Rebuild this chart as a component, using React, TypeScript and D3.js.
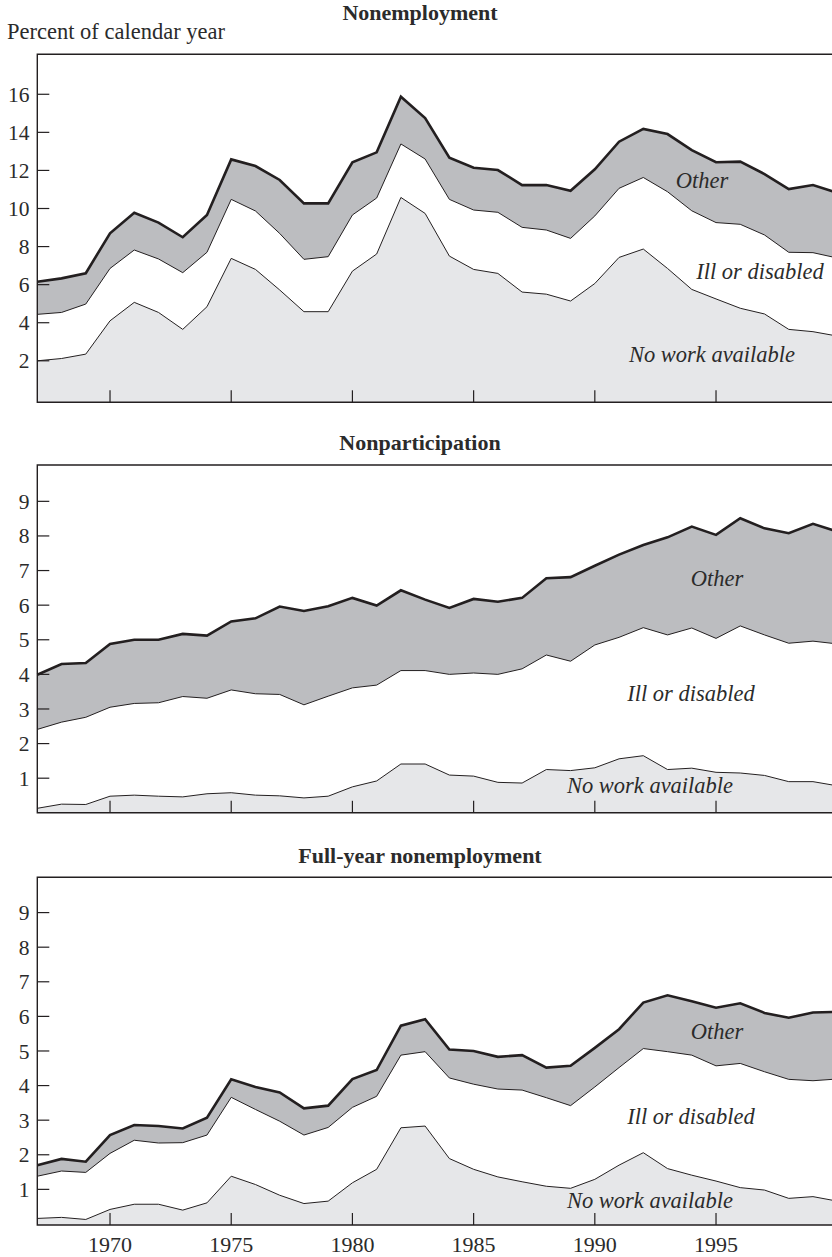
import * as d3 from 'd3'

const YEARS = [
  1967, 1968, 1969, 1970, 1971, 1972, 1973, 1974, 1975, 1976, 1977,
  1978, 1979, 1980, 1981, 1982, 1983, 1984, 1985, 1986, 1987, 1988,
  1989, 1990, 1991, 1992, 1993, 1994, 1995, 1996, 1997, 1998, 1999, 2000,
]
const YEAR_TICKS = [1970, 1975, 1980, 1985, 1990, 1995]
const BAND_LABELS = ['No work available', 'Ill or disabled', 'Other']

// cumulative boundaries: no work, + ill/disabled, + other (= total)
const NONEMP_NO_WORK = [
  2.0, 2.12, 2.35, 4.1, 5.07, 4.54, 3.65, 4.84, 7.38, 6.8, 5.72, 4.58, 4.58, 6.71, 7.61, 10.58, 9.74,
  7.5, 6.8, 6.59, 5.61, 5.5, 5.14, 6.06, 7.43, 7.87, 6.85, 5.75, 5.25, 4.76, 4.46, 3.65, 3.53, 3.3,
]
const NONEMP_NO_WORK_ILL = [
  4.44, 4.54, 4.98, 6.85, 7.82, 7.35, 6.63, 7.7, 10.48, 9.87, 8.69, 7.33, 7.47, 9.66, 10.55, 13.39, 12.6,
  10.48, 9.92, 9.8, 9.01, 8.87, 8.43, 9.61, 11.06, 11.63, 10.88, 9.88, 9.26, 9.17, 8.61, 7.7, 7.68, 7.4,
]
const NONEMP_TOTAL = [
  6.15, 6.33, 6.6, 8.7, 9.78, 9.26, 8.49, 9.66, 12.58, 12.23, 11.5, 10.27, 10.27, 12.43, 12.95, 15.87, 14.75,
  12.67, 12.14, 12.02, 11.23, 11.23, 10.93, 12.06, 13.51, 14.18, 13.91, 13.07, 12.43, 12.46, 11.81, 11.02, 11.23, 10.83,
]

const NONPART_NO_WORK = [
  0.13, 0.25, 0.24, 0.48, 0.51, 0.48, 0.46, 0.55, 0.58, 0.51, 0.49, 0.43, 0.48, 0.75, 0.92, 1.41, 1.41,
  1.09, 1.06, 0.88, 0.86, 1.25, 1.22, 1.3, 1.56, 1.65, 1.25, 1.29, 1.17, 1.15, 1.08, 0.9, 0.9, 0.78,
]
const NONPART_NO_WORK_ILL = [
  2.41, 2.62, 2.76, 3.05, 3.16, 3.18, 3.36, 3.31, 3.55, 3.44, 3.42, 3.12, 3.37, 3.61, 3.69, 4.11, 4.11,
  4.0, 4.04, 4.0, 4.16, 4.56, 4.38, 4.85, 5.07, 5.35, 5.14, 5.34, 5.04, 5.4, 5.14, 4.9, 4.96, 4.88,
]
const NONPART_TOTAL = [
  3.99, 4.3, 4.33, 4.88, 5.0, 5.0, 5.17, 5.12, 5.53, 5.62, 5.96, 5.83, 5.97, 6.21, 5.99, 6.43, 6.16,
  5.92, 6.18, 6.1, 6.21, 6.78, 6.81, 7.14, 7.46, 7.74, 7.96, 8.27, 8.03, 8.51, 8.22, 8.08, 8.35, 8.13,
]

const FULLYEAR_NO_WORK = [
  0.16, 0.19, 0.13, 0.42, 0.57, 0.57, 0.4, 0.61, 1.38, 1.14, 0.83, 0.59, 0.66, 1.19, 1.58, 2.78, 2.83,
  1.89, 1.58, 1.36, 1.22, 1.09, 1.03, 1.29, 1.7, 2.06, 1.6, 1.41, 1.24, 1.05, 0.98, 0.74, 0.79, 0.66,
]
const FULLYEAR_NO_WORK_ILL = [
  1.38, 1.53, 1.49, 2.04, 2.42, 2.34, 2.35, 2.57, 3.66, 3.31, 2.97, 2.57, 2.79, 3.37, 3.69, 4.88, 4.98,
  4.22, 4.04, 3.9, 3.87, 3.65, 3.42, 3.96, 4.52, 5.07, 4.98, 4.88, 4.57, 4.64, 4.4, 4.18, 4.14, 4.19,
]
const FULLYEAR_TOTAL = [
  1.7, 1.88, 1.8, 2.57, 2.86, 2.83, 2.76, 3.07, 4.18, 3.96, 3.8, 3.34, 3.42, 4.19, 4.45, 5.73, 5.92,
  5.04, 5.0, 4.83, 4.88, 4.52, 4.57, 5.09, 5.63, 6.4, 6.61, 6.44, 6.25, 6.38, 6.1, 5.96, 6.11, 6.13,
]

const TICKS_P1 = [2, 4, 6, 8, 10, 12, 14, 16]
const TICKS_P23 = [1, 2, 3, 4, 5, 6, 7, 8, 9]

const W = 832
const H = 1257
const LEFT = 37.3
const FONT = '"Liberation Serif", "Times New Roman", Times, serif'
const INK = '#231f20'
const TEXT = '#2b2b2b'

const x = d3.scaleLinear().domain([1967, 2000]).range([LEFT, LEFT + 33 * 24.24])

const panels = [
  {
    title: 'Nonemployment', titleY: 20,
    top: 54.3, bottom: 402.3, domain: [-0.18, 18.1],
    ticks: TICKS_P1,
    series: [NONEMP_NO_WORK, NONEMP_NO_WORK_ILL, NONEMP_TOTAL],
    labelPos: [[712, 362], [760, 279], [702, 188]],
  },
  {
    title: 'Nonparticipation', titleY: 449.5,
    top: 465, bottom: 812.8, domain: [0, 10.05],
    ticks: TICKS_P23,
    series: [NONPART_NO_WORK, NONPART_NO_WORK_ILL, NONPART_TOTAL],
    labelPos: [[650, 793], [691, 700.5], [717, 585.5]],
  },
  {
    title: 'Full-year nonemployment', titleY: 862.5,
    top: 877.3, bottom: 1225, domain: [-0.03, 10.02],
    ticks: TICKS_P23,
    series: [FULLYEAR_NO_WORK, FULLYEAR_NO_WORK_ILL, FULLYEAR_TOTAL],
    labelPos: [[650, 1207.5], [691, 1124], [717, 1038.5]],
  },
]

function Panel({ p, showYears }) {
  const y = d3.scaleLinear().domain(p.domain).range([p.bottom, p.top])
  const [noWork, noWorkIll, total] = p.series
  const idx = YEARS.map((_, i) => i)

  const band = (lo, hi) =>
    d3.area<number>()
      .x(i => x(YEARS[i]))
      .y0(i => (lo ? y(lo[i]) : p.bottom))
      .y1(i => y(hi[i]))(idx)

  const line = (s, ) => d3.line<number>().x(i => x(YEARS[i])).y(i => y(s[i]))(idx)

  return (
    <g>
      <text x={420} y={p.titleY} textAnchor="middle" fontFamily={FONT} fontWeight="bold"
        fontSize={22} fill={TEXT}>{p.title}</text>

      {/* stacked bands */}
      <path d={band(null, noWork)} fill="#e6e7e9" />
      <path d={band(noWork, noWorkIll)} fill="#ffffff" />
      <path d={band(noWorkIll, total)} fill="#bcbdc0" />

      <path d={line(noWork)} fill="none" stroke={INK} strokeWidth={1} />
      <path d={line(noWorkIll)} fill="none" stroke={INK} strokeWidth={1} />
      <path d={line(total)} fill="none" stroke={INK} strokeWidth={2.6} strokeLinejoin="miter" />

      {/* frame (right side falls outside the picture) */}
      <path d={`M${W + 20},${p.top}H${LEFT}V${p.bottom}H${W + 20}`} fill="none" stroke={INK} strokeWidth={1.4} />

      {p.ticks.map(t => (
        <g key={t}>
          <line x1={LEFT} x2={LEFT + 12} y1={y(t)} y2={y(t)} stroke={INK} strokeWidth={1.2} />
          <text x={29.5} y={y(t)} dy="0.35em" textAnchor="end" fontFamily={FONT} fontSize={21.5}
            fill={TEXT}>{t}</text>
        </g>
      ))}

      {YEAR_TICKS.map(t => (
        <g key={t}>
          <line x1={x(t)} x2={x(t)} y1={p.bottom} y2={p.bottom - 12} stroke={INK} strokeWidth={1.2} />
          {showYears && (
            <text x={x(t)} y={1252} textAnchor="middle" fontFamily={FONT} fontSize={22}
              fill={TEXT}>{t}</text>
          )}
        </g>
      ))}

      {BAND_LABELS.map((lab, i) => (
        <text key={lab} x={p.labelPos[i][0]} y={p.labelPos[i][1]} textAnchor="middle"
          fontFamily={FONT} fontStyle="italic" fontSize={22.5} fill={TEXT}>{lab}</text>
      ))}
    </g>
  )
}

export default function App() {
  return (
    <div style={{ position: 'absolute', left: 0, top: 0 }}>
      <svg width={W} height={H} style={{ display: 'block', background: '#fff', overflow: 'hidden' }}>
        <text x={7} y={38.5} fontFamily={FONT} fontSize={22.5} fill={TEXT}>Percent of calendar year</text>
        {panels.map((p, i) => (
          <Panel key={p.title} p={p} showYears={i === panels.length - 1} />
        ))}
      </svg>
    </div>
  )
}
